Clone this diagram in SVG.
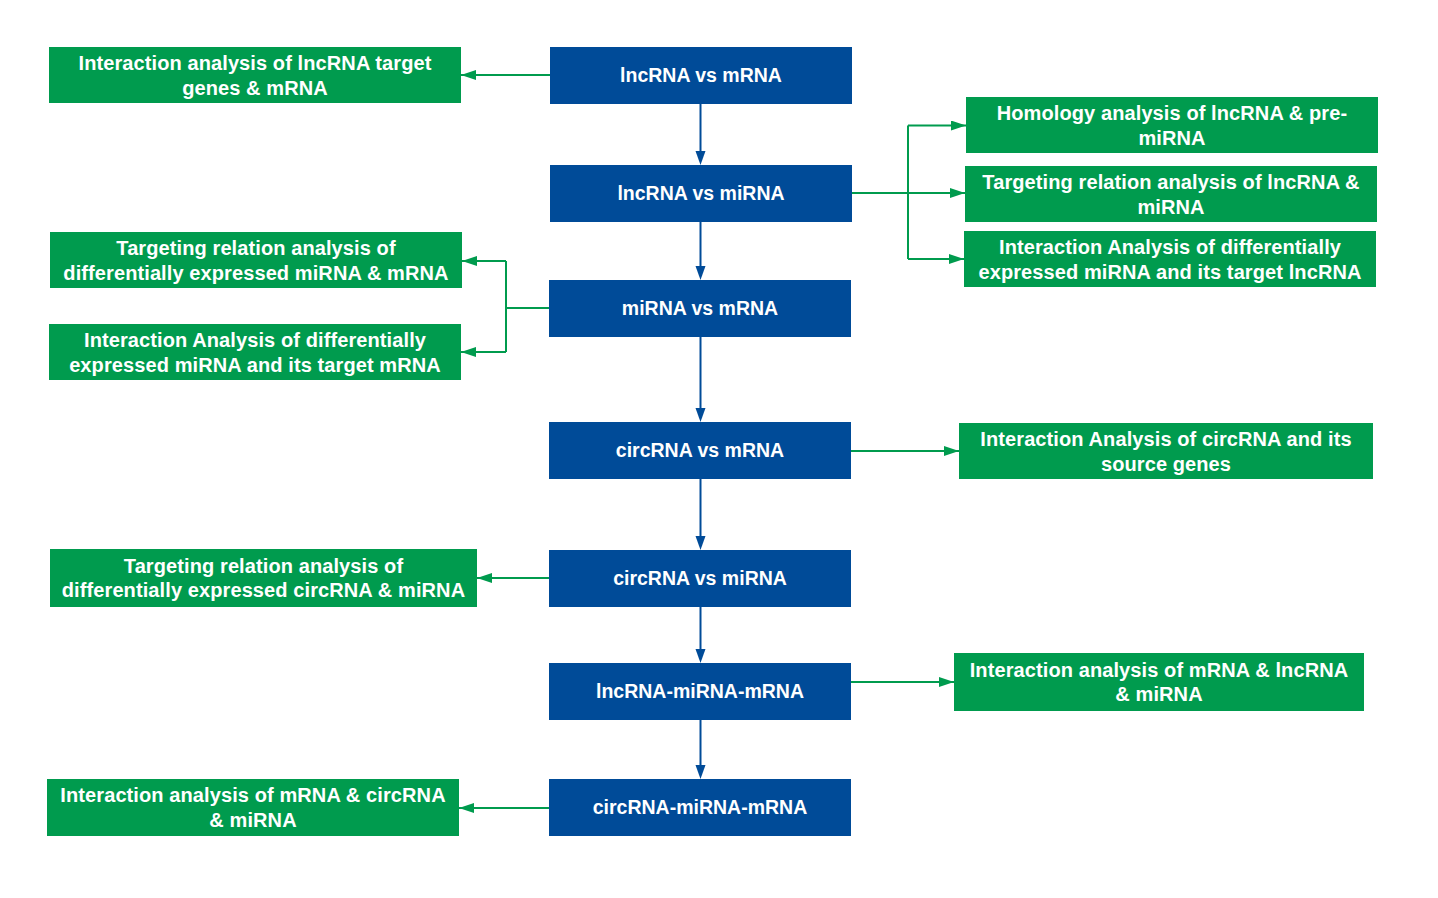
<svg xmlns="http://www.w3.org/2000/svg" width="1438" height="898" viewBox="0 0 1438 898">
<style>
.bg{fill:#ffffff}
.blue rect{fill:#004B98}
.green rect{fill:#009B4E}
text{font-family:"Liberation Sans",Arial,sans-serif;font-weight:bold;fill:#ffffff;text-anchor:middle}
.blue text{font-size:19.5px}
.green text{font-size:20px;letter-spacing:0.1px}
.cb{fill:none;stroke:#004B98;stroke-width:2}
.cg{fill:none;stroke:#009B4E;stroke-width:2}
.hb{fill:#004B98}
</style>
<defs>
<marker id="ag" markerUnits="userSpaceOnUse" markerWidth="15" markerHeight="10" refX="15" refY="5" orient="auto" viewBox="0 0 15 10">
<path d="M0,0 L15,5 L0,10 z" fill="#009B4E"/>
</marker>
</defs>
<rect class="bg" x="0" y="0" width="1438" height="898"/>

<g id="connectors">
<path class="cb" d="M700.5,104 V151"/>
<path class="cb" d="M700.5,222 V266"/>
<path class="cb" d="M700.5,337 V408"/>
<path class="cb" d="M700.5,479 V536"/>
<path class="cb" d="M700.5,607 V649"/>
<path class="cb" d="M700.5,720 V765"/>
<path class="hb" d="M695.5,151 L705.5,151 L700.5,165 z"/>
<path class="hb" d="M695.5,266 L705.5,266 L700.5,280 z"/>
<path class="hb" d="M695.5,408 L705.5,408 L700.5,422 z"/>
<path class="hb" d="M695.5,536 L705.5,536 L700.5,550 z"/>
<path class="hb" d="M695.5,649 L705.5,649 L700.5,663 z"/>
<path class="hb" d="M695.5,765 L705.5,765 L700.5,779 z"/>
<path class="cg" d="M550,75 H461" marker-end="url(#ag)"/>
<path class="cg" d="M852,193 H908"/>
<path class="cg" d="M908,125.5 V259"/>
<path class="cg" d="M908,125.5 H966" marker-end="url(#ag)"/>
<path class="cg" d="M908,193 H965" marker-end="url(#ag)"/>
<path class="cg" d="M908,259 H964" marker-end="url(#ag)"/>
<path class="cg" d="M549,308 H506"/>
<path class="cg" d="M506,261 V352"/>
<path class="cg" d="M506,261 H462" marker-end="url(#ag)"/>
<path class="cg" d="M506,352 H461" marker-end="url(#ag)"/>
<path class="cg" d="M851,451 H959" marker-end="url(#ag)"/>
<path class="cg" d="M549,578 H477" marker-end="url(#ag)"/>
<path class="cg" d="M851,682 H954" marker-end="url(#ag)"/>
<path class="cg" d="M549,808 H459" marker-end="url(#ag)"/>
</g>

<g id="b1" class="blue"><rect x="550" y="47" width="302" height="57"/><text x="701" y="82">lncRNA vs mRNA</text></g>
<g id="b2" class="blue"><rect x="550" y="165" width="302" height="57"/><text x="701" y="200">lncRNA vs miRNA</text></g>
<g id="b3" class="blue"><rect x="549" y="280" width="302" height="57"/><text x="700" y="315">miRNA vs mRNA</text></g>
<g id="b4" class="blue"><rect x="549" y="422" width="302" height="57"/><text x="700" y="457">circRNA vs mRNA</text></g>
<g id="b5" class="blue"><rect x="549" y="550" width="302" height="57"/><text x="700" y="585">circRNA vs miRNA</text></g>
<g id="b6" class="blue"><rect x="549" y="663" width="302" height="57"/><text x="700" y="698">lncRNA-miRNA-mRNA</text></g>
<g id="b7" class="blue"><rect x="549" y="779" width="302" height="57"/><text x="700" y="814">circRNA-miRNA-mRNA</text></g>

<g id="g1" class="green"><rect x="49" y="47" width="412" height="56"/><text x="255" y="70">Interaction analysis of lncRNA target</text><text x="255" y="94.5">genes &amp; mRNA</text></g>
<g id="g2" class="green"><rect x="966" y="97" width="412" height="56"/><text x="1172" y="120">Homology analysis of lncRNA &amp; pre-</text><text x="1172" y="144.5">miRNA</text></g>
<g id="g3" class="green"><rect x="965" y="166" width="412" height="56"/><text x="1171" y="189">Targeting relation analysis of lncRNA &amp;</text><text x="1171" y="213.5">miRNA</text></g>
<g id="g4" class="green"><rect x="964" y="231" width="412" height="56"/><text x="1170" y="254">Interaction Analysis of differentially</text><text x="1170" y="278.5">expressed miRNA and its target lncRNA</text></g>
<g id="g5" class="green"><rect x="50" y="232" width="412" height="56"/><text x="256" y="255">Targeting relation analysis of</text><text x="256" y="279.5">differentially expressed miRNA &amp; mRNA</text></g>
<g id="g6" class="green"><rect x="49" y="324" width="412" height="56"/><text x="255" y="347">Interaction Analysis of differentially</text><text x="255" y="371.5">expressed miRNA and its target mRNA</text></g>
<g id="g7" class="green"><rect x="959" y="423" width="414" height="56"/><text x="1166" y="446">Interaction Analysis of circRNA and its</text><text x="1166" y="470.5">source genes</text></g>
<g id="g8" class="green"><rect x="50" y="549" width="427" height="58"/><text x="263.5" y="572.5">Targeting relation analysis of</text><text x="263.5" y="597">differentially expressed circRNA &amp; miRNA</text></g>
<g id="g9" class="green"><rect x="954" y="653" width="410" height="58"/><text x="1159" y="676.5">Interaction analysis of mRNA &amp; lncRNA</text><text x="1159" y="701">&amp; miRNA</text></g>
<g id="g10" class="green"><rect x="47" y="779" width="412" height="57"/><text x="253" y="802">Interaction analysis of mRNA &amp; circRNA</text><text x="253" y="826.5">&amp; miRNA</text></g>
</svg>
